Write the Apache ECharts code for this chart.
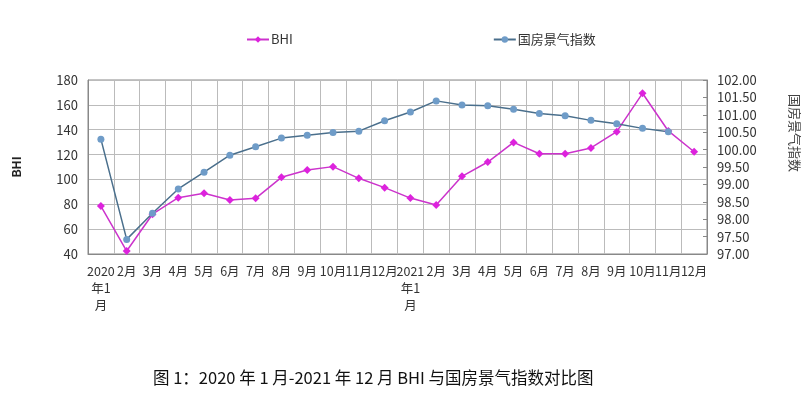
<!DOCTYPE html>
<html>
<head>
<meta charset="utf-8">
<script src="https://cdn.jsdelivr.net/npm/echarts@6/dist/echarts.min.js"></script>
<style>html,body{margin:0;padding:0;background:#fff;}#c{width:812px;height:396px;}</style>
</head>
<body>
<div id="c"></div>
<script>
const categories = ['2020\n年1\n月','2月','3月','4月','5月','6月','7月','8月','9月','10月','11月','12月',
  '2021\n年1\n月','2月','3月','4月','5月','6月','7月','8月','9月','10月','11月','12月'];
const bhi = [78.6, 42.4, 72, 85.3, 88.8, 83.5, 84.8, 101.7, 107.6, 110.3, 100.9, 93.4,
  85, 79.4, 102.5, 114, 129.8, 120.7, 120.7, 125.3, 138.4, 169.3, 139, 122.3];
const guofang = [100.30, 97.42, 98.17, 98.87, 99.35, 99.84, 100.08, 100.33, 100.41, 100.49, 100.53, 100.83,
  101.08, 101.40, 101.28, 101.26, 101.16, 101.04, 100.97, 100.84, 100.74, 100.61, 100.51];
const titleText = '图 1：2020 年 1 月-2021 年 12 月 BHI 与国房景气指数对比图';
const rightAxisName = '国房景气指数';

const font = '"Noto Sans CJK SC", "Noto Sans", sans-serif';
const chart = echarts.init(document.getElementById('c'));
chart.setOption({
  backgroundColor: '#fff',
  animation: false,
  textStyle: { fontFamily: font },
  title: {
    text: titleText,
    left: 148, top: 364,
    textStyle: { fontSize: 16.5, fontWeight: 'normal', color: '#111', fontFamily: font }
  },
  graphic: [{
    type: 'text', x: 795, y: 133, rotation: -Math.PI / 2,
    style: { text: rightAxisName, fontSize: 13, fill: '#444', fontFamily: font,
      align: 'center', verticalAlign: 'middle' }
  }],
  legend: {
    left: 241, top: 28,
    itemGap: 200,
    itemWidth: 22, itemHeight: 8,
    textStyle: { fontSize: 13, color: '#333', padding: [0, 0, 0, -3] },
    data: ['BHI', '国房景气指数']
  },
  grid: { left: 88, right: 105, top: 80, bottom: 142, containLabel: false,
    show: true, borderColor: '#888', borderWidth: 1 },
  xAxis: {
    type: 'category',
    data: categories,
    boundaryGap: true,
    axisLine: { lineStyle: { color: '#888' } },
    axisTick: { show: false },
    splitLine: { show: true, interval: 0, lineStyle: { color: '#bbb' } },
    axisLabel: { interval: 0, fontSize: 12.5, color: '#333', lineHeight: 17, margin: 9 }
  },
  yAxis: [{
    type: 'value', min: 40, max: 180, interval: 20,
    name: 'BHI', nameLocation: 'middle', nameGap: 66, nameRotate: 90,
    nameTextStyle: { fontSize: 12, fontWeight: 'bold', color: '#222' },
    axisLine: { show: true, lineStyle: { color: '#888' } },
    axisTick: { show: false },
    axisLabel: { fontSize: 13, color: '#333', margin: 10 },
    splitLine: { show: true, lineStyle: { color: '#bbb' } }
  }, {
    type: 'value', min: 97, max: 102, interval: 0.5, position: 'right',
    axisLine: { show: true, lineStyle: { color: '#888' } },
    axisTick: { show: true, inside: true, length: 4, lineStyle: { color: '#888' } },
    axisLabel: { fontSize: 13, color: '#333', margin: 10, formatter: v => v.toFixed(2) },
    splitLine: { show: false }
  }],
  series: [{
    name: 'BHI', type: 'line', yAxisIndex: 0, data: bhi,
    symbol: 'diamond', symbolSize: 8,
    lineStyle: { color: '#cc33cc', width: 1.5 },
    itemStyle: { color: '#dd22dd' }
  }, {
    name: '国房景气指数', type: 'line', yAxisIndex: 1, data: guofang,
    symbol: 'circle', symbolSize: 7,
    lineStyle: { color: '#4a6f8c', width: 1.5 },
    itemStyle: { color: '#6f9cc8' }
  }]
});
</script>
</body>
</html>
